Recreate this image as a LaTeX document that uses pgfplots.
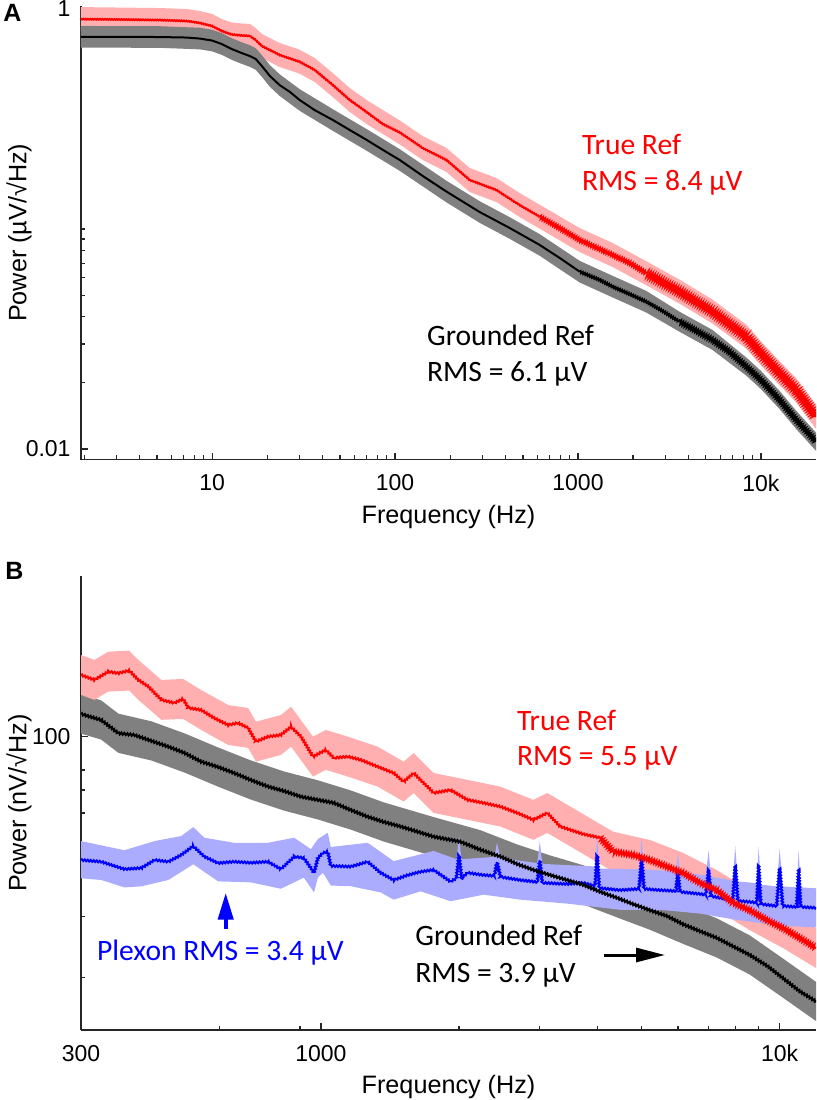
\documentclass[border=0pt]{standalone}
\usepackage{fontspec}
\setmainfont{Liberation Sans}
\newfontfamily\calib{Carlito}
\usepackage{pgfplots}
\pgfplotsset{compat=1.18}
\usepackage{pgfplotstable}
\usetikzlibrary{arrows.meta,decorations.pathmorphing}

\definecolor{pinkband}{RGB}{255,175,175}
\definecolor{grayband}{RGB}{128,128,128}
\definecolor{blueband}{RGB}{172,172,255}

% ---------- Panel A : black (grounded), in three frequency parts ----------
\pgfplotstableread{
f v
1.9 0.748
3.13 0.748
5.18 0.746
7.27 0.742
8.57 0.734
10.0 0.719
11.3 0.693
12.8 0.658
14.5 0.631
16.1 0.611
17.3 0.593
18.7 0.551
20.7 0.496
23.4 0.451
26.6 0.420
30.1 0.386
36.4 0.347
45.7 0.313
56.5 0.282
70.0 0.254
85.7 0.229
106 0.206
142 0.174
191 0.148
290 0.1195
424 0.101
618 0.0846
794 0.0739
1021 0.0640
}\blackAlo

\pgfplotstableread{
f v
1021 0.0640
1314 0.0587
1547 0.0547
1917 0.0506
2366 0.0467
2903 0.0424
3594 0.0379
}\blackAmid

\pgfplotstableread{
f v
3594 0.0379
4453 0.0344
5445 0.0313
6745 0.0276
8318 0.0237
10000 0.0206
12650 0.0167
15600 0.01355
17540 0.0122
20000 0.0108
}\blackAhi

% band of the black curve: upper edge (k>1) then lower edge back (k<1)
\pgfplotstableread{
f v k
1.9 0.748 1.12
5.18 0.746 1.12
8.57 0.734 1.12
10.0 0.719 1.12
11.3 0.693 1.12
12.8 0.658 1.12
14.5 0.631 1.12
16.1 0.611 1.12
17.3 0.593 1.12
18.7 0.551 1.12
20.7 0.496 1.12
23.4 0.451 1.12
30.1 0.386 1.12
45.7 0.313 1.12
70.0 0.254 1.12
106 0.206 1.12
191 0.148 1.12
290 0.1195 1.12
424 0.101 1.12
618 0.0846 1.12
1021 0.0640 1.12
1547 0.0547 1.12
2366 0.0467 1.12
3594 0.0379 1.11
5445 0.0313 1.11
8318 0.0237 1.10
10000 0.0206 1.10
12650 0.0167 1.10
15600 0.01355 1.10
20000 0.0108 1.10
20000 0.0108 0.909
15600 0.01355 0.909
12650 0.0167 0.909
10000 0.0206 0.909
8318 0.0237 0.909
5445 0.0313 0.90
3594 0.0379 0.90
2366 0.0467 0.893
1547 0.0547 0.893
1021 0.0640 0.893
618 0.0846 0.893
424 0.101 0.893
290 0.1195 0.893
191 0.148 0.893
106 0.206 0.893
70.0 0.254 0.893
45.7 0.313 0.893
30.1 0.386 0.893
23.4 0.451 0.893
20.7 0.496 0.893
18.7 0.551 0.893
17.3 0.593 0.893
16.1 0.611 0.893
14.5 0.631 0.893
12.8 0.658 0.893
11.3 0.693 0.893
10.0 0.719 0.893
8.57 0.734 0.893
5.18 0.746 0.893
1.9 0.748 0.893
}\blackAband

% ---------- Panel A : red (true ref), in three frequency parts ----------
\pgfplotstableread{
f v
1.9 0.900
3.13 0.896
5.18 0.891
7.27 0.882
8.57 0.864
10.0 0.837
11.3 0.794
12.8 0.766
14.5 0.758
16.1 0.754
17.3 0.723
18.7 0.679
20.7 0.651
23.4 0.618
26.6 0.596
30.1 0.576
36.4 0.528
45.7 0.451
56.5 0.386
70.0 0.340
85.7 0.300
106 0.275
142 0.233
191 0.206
256 0.167
358 0.1504
480 0.1285
618 0.1137
}\redAlo

\pgfplotstableread{
f v
618 0.1137
794 0.101
1021 0.0891
1547 0.0762
1917 0.0701
2366 0.0629
}\redAmid

\pgfplotstableread{
f v
2366 0.0629
3594 0.0519
5445 0.0421
8318 0.0324
10000 0.0272
12650 0.0221
15600 0.0185
20000 0.0140
}\redAhi

\pgfplotstableread{
f v k
1.9 0.900 1.134
5.18 0.891 1.134
7.27 0.882 1.134
8.57 0.864 1.134
10.0 0.837 1.134
11.3 0.794 1.134
12.8 0.766 1.134
14.5 0.758 1.134
16.1 0.754 1.134
17.3 0.723 1.134
18.7 0.679 1.134
20.7 0.651 1.134
23.4 0.618 1.134
30.1 0.576 1.134
36.4 0.528 1.134
45.7 0.451 1.134
56.5 0.386 1.134
70.0 0.340 1.134
106 0.275 1.134
142 0.233 1.134
191 0.206 1.134
256 0.167 1.134
358 0.1504 1.134
480 0.1285 1.134
618 0.1137 1.134
1021 0.0891 1.134
1547 0.0762 1.134
2366 0.0629 1.134
3594 0.0519 1.134
5445 0.0421 1.134
8318 0.0324 1.134
10000 0.0272 1.134
12650 0.0221 1.134
15600 0.0185 1.134
20000 0.0140 1.134
20000 0.0140 0.882
15600 0.0185 0.882
12650 0.0221 0.882
10000 0.0272 0.882
8318 0.0324 0.882
5445 0.0421 0.882
3594 0.0519 0.882
2366 0.0629 0.882
1547 0.0762 0.882
1021 0.0891 0.882
618 0.1137 0.882
480 0.1285 0.882
358 0.1504 0.882
256 0.167 0.882
191 0.206 0.882
142 0.233 0.882
106 0.275 0.882
70.0 0.340 0.882
56.5 0.386 0.882
45.7 0.451 0.882
36.4 0.528 0.882
30.1 0.576 0.882
23.4 0.618 0.882
20.7 0.651 0.882
18.7 0.679 0.882
17.3 0.723 0.882
16.1 0.754 0.882
14.5 0.758 0.882
12.8 0.766 0.882
11.3 0.794 0.882
10.0 0.837 0.882
8.57 0.864 0.882
7.27 0.882 0.882
5.18 0.891 0.882
1.9 0.900 0.882
}\redAband

% ---------- Panel B : red (true ref) ----------
\pgfplotstableread{
f v
300 151.1
321 146.2
344 154.5
362 152.9
382 155.6
400 146.2
421 139.7
449 127.9
479 125.3
501 128.7
514 121.2
548 119.6
585 113.3
628 108.1
660 109.6
694 106.0
722 96.7
767 100
818 101.1
861 106.9
905 100
961 87.5
1025 91.5
1067 86.7
1145 87.5
1222 85.6
1330 81.8
1441 78.4
1515 74.0
1593 78.4
1761 68.6
1917 70.0
2088 65.5
2262 64.2
2463 62.6
2682 60.0
2904 57.3
3115 60.0
3325 54.8
3731 52.1
4062 50.8
}\redBlo

\pgfplotstableread{
f v
4062 50.8
4335 46.3
4790 45.3
5217 43.8
5679 41.9
6154 40.2
6701 37.6
7295 35.8
7904 32.9
8606 31.3
9370 29.3
10150 27.8
11053 26.0
12000 24.3
}\redBhi

\pgfplotstableread{
f v k
300 151.1 1.143
321 146.2 1.143
344 154.5 1.143
382 155.6 1.143
400 146.2 1.143
449 127.9 1.143
501 128.7 1.143
548 119.6 1.143
628 108.1 1.143
694 106.0 1.143
722 96.7 1.143
818 101.1 1.143
861 106.9 1.143
961 87.5 1.143
1025 91.5 1.143
1145 87.5 1.143
1330 81.8 1.143
1515 74.0 1.143
1593 78.4 1.143
1761 68.6 1.143
2088 65.5 1.143
2463 62.6 1.143
2904 57.3 1.143
3115 60.0 1.143
3731 52.1 1.143
4335 46.3 1.143
5217 43.8 1.143
6154 40.2 1.143
7295 35.8 1.143
8606 31.3 1.143
10150 27.8 1.143
12000 24.3 1.143
12000 24.3 0.875
10150 27.8 0.875
8606 31.3 0.875
7295 35.8 0.875
6154 40.2 0.875
5217 43.8 0.875
4335 46.3 0.875
3731 52.1 0.875
3115 60.0 0.875
2904 57.3 0.875
2463 62.6 0.875
2088 65.5 0.875
1761 68.6 0.875
1593 78.4 0.875
1515 74.0 0.875
1330 81.8 0.875
1145 87.5 0.875
1025 91.5 0.875
961 87.5 0.875
861 106.9 0.875
818 101.1 0.875
722 96.7 0.875
694 106.0 0.875
628 108.1 0.875
548 119.6 0.875
501 128.7 0.875
449 127.9 0.875
400 146.2 0.875
382 155.6 0.875
344 154.5 0.875
321 146.2 0.875
300 151.1 0.875
}\redBband

% ---------- Panel B : black (grounded) ----------
\pgfplotstableread{
f v
300 116.4
332 111.8
362 102.3
392 101.1
427 97.2
465 93.5
504 89.7
548 84.6
597 81.6
647 78.4
704 74.8
767 71.6
831 69.5
905 66.9
985 65.5
1067 64.2
1162 61.2
1265 58.5
1371 56.5
1492 54.8
1761 51.2
2014 49.5
2227 46.9
2463 44.8
2682 42.6
2904 41.0
3162 39.6
3443 38.3
3731 37.1
4062 35.4
4423 34.0
4790 32.6
5217 31.3
5679 30.1
6154 28.5
6701 27.2
7295 26.0
7904 24.6
8606 23.2
9370 21.6
10150 19.9
11053 18.2
12000 17.0
}\blackB

\pgfplotstableread{
f v k
300 116.4 1.14
332 111.8 1.14
362 102.3 1.14
427 97.2 1.14
504 89.7 1.14
597 81.6 1.14
704 74.8 1.14
831 69.5 1.14
985 65.5 1.14
1162 61.2 1.14
1371 56.5 1.14
1761 51.2 1.14
2227 46.9 1.14
2682 42.6 1.14
3162 39.6 1.14
3731 37.1 1.14
4423 34.0 1.14
5217 31.3 1.14
6154 28.5 1.14
7295 26.0 1.14
8606 23.2 1.14
10150 19.9 1.14
12000 17.0 1.14
12000 17.0 0.877
10150 19.9 0.877
8606 23.2 0.877
7295 26.0 0.877
6154 28.5 0.877
5217 31.3 0.877
4423 34.0 0.877
3731 37.1 0.877
3162 39.6 0.877
2682 42.6 0.877
2227 46.9 0.877
1761 51.2 0.877
1371 56.5 0.877
1162 61.2 0.877
985 65.5 0.877
831 69.5 0.877
704 74.8 0.877
597 81.6 0.877
504 89.7 0.877
427 97.2 0.877
362 102.3 0.877
332 111.8 0.877
300 116.4 0.877
}\blackBband

% ---------- Panel B : blue (Plexon) ----------
\pgfplotstableread{
f v
300 43.8
332 43.3
373 41.2
406 41.5
434 43.8
465 43.3
496 45.3
527 48.1
557 44.8
597 42.9
647 43.3
704 43.0
767 43.3
818 41.2
874 44.8
918 44.4
951 41.5
966 40.2
985 44.4
1010 45.9
1035 46.3
1051 42.1
1162 41.9
1265 43.3
1350 40.2
1441 38.3
1546 39.6
1650 40.5
1761 41.0
1917 37.9
1975 38.8
2000 45.3
2025 38.8
2088 40.2
2262 39.6
2389 39.4
2420 43.3
2463 39.1
2721 38.3
2963 37.8
3000 43.8
3038 37.6
3443 37.3
3731 37.6
3961 36.8
4000 45.3
4043 36.3
4488 35.8
4937 36.1
5000 44.4
5061 36.1
5483 35.8
5940 35.6
6000 40.4
6060 35.4
6701 34.9
6904 34.7
7000 41.0
7079 34.4
7406 34.0
7904 33.5
8000 42.1
8107 33.3
8606 33.1
8913 32.9
9000 42.1
9094 32.6
9851 32.2
10000 41.5
10150 32.2
10890 32.0
11000 41.0
11110 32.0
12000 31.8
}\blueB

\pgfplotstableread{
f v k
300 43.8 1.135
373 41.2 1.135
434 43.8 1.135
496 45.3 1.135
527 48.1 1.135
557 44.8 1.135
647 43.3 1.135
767 43.3 1.135
874 44.8 1.135
951 41.5 1.135
985 44.4 1.135
1035 46.3 1.135
1051 42.1 1.135
1265 43.3 1.135
1441 38.3 1.135
1761 41.0 1.135
1975 38.8 1.135
2000 45.3 1.135
2025 38.8 1.135
2389 39.4 1.135
2420 43.3 1.135
2463 39.1 1.135
2963 37.8 1.135
3000 43.8 1.135
3038 37.6 1.135
3961 36.8 1.14
4000 45.3 1.14
4043 36.3 1.14
4937 36.1 1.14
5000 44.4 1.14
5061 36.1 1.14
5940 35.6 1.14
6000 40.4 1.14
6060 35.4 1.14
6904 34.7 1.14
7000 41.0 1.14
7079 34.4 1.14
7904 33.5 1.14
8000 42.1 1.14
8107 33.3 1.14
8913 32.9 1.14
9000 42.1 1.14
9094 32.6 1.14
9851 32.2 1.14
10000 41.5 1.14
10150 32.2 1.14
10890 32.0 1.14
11000 41.0 1.14
11110 32.0 1.14
12000 31.8 1.14
12000 31.8 0.877
10000 32.2 0.877
8000 33.5 0.877
6701 34.9 0.877
5483 35.8 0.877
4488 35.8 0.877
3443 37.3 0.877
2721 38.3 0.877
2262 39.6 0.877
1917 37.9 0.877
1650 40.5 0.877
1441 38.3 0.877
1350 40.2 0.877
1162 41.9 0.877
1051 42.1 0.877
1010 45.9 0.877
985 44.4 0.877
966 40.2 0.877
918 44.4 0.877
818 41.2 0.877
704 43.0 0.877
597 42.9 0.885
527 48.1 0.885
465 43.3 0.885
406 41.5 0.885
373 41.2 0.885
332 43.3 0.885
300 43.8 0.885
}\blueBband

\begin{document}
\begin{tikzpicture}
\path[use as bounding box] (0,0) rectangle (408.5pt,-550pt);

% ================= Panel A =================
\begin{axis}[
  scale only axis, width=367.5pt, height=226.75pt,
  at={(40.5pt,-229.75pt)}, anchor=south west,
  xmode=log, ymode=log,
  xmin=1.92, xmax=20000, ymin=0.00896, ymax=1.032,
  axis x line*=bottom, axis y line*=left,
  axis line style={black!85, line width=0.6pt},
  tick style={black!85, line width=0.6pt},
  tick align=inside,
  major tick length=3.5pt, minor tick length=2.2pt,
  tick label style={font=\fontsize{11.5}{13}\selectfont},
  label style={font=\fontsize{12.6}{14}\selectfont},
  xlabel={Frequency (Hz)},
  xlabel style={at={(axis description cs:0.5,-0.126)}, anchor=center},
  ylabel style={at={(axis description cs:-0.0843,0.5)}, anchor=center},
  xticklabel style={yshift=-4pt},
  yticklabel style={xshift=-1.7pt},
  xtick={10,100,1000,10000}, xticklabels={10,100,1000,10k},
  minor xtick={2,3,4,5,6,7,8,9,20,30,40,50,60,70,80,90,200,300,400,500,600,700,800,900,2000,3000,4000,5000,6000,7000,8000,9000},
  ytick={0.01,1}, yticklabels={0.01,1},
  minor ytick={0.02,0.03,0.04,0.05,0.06,0.07,0.08,0.09,0.1},
  ylabel={Power (µV/√Hz)},
]
\addplot[fill=pinkband, draw=none, forget plot] table[x=f, y expr=\thisrow{v}*\thisrow{k}] {\redAband};
\addplot[fill=grayband, draw=none, forget plot] table[x=f, y expr=\thisrow{v}*\thisrow{k}] {\blackAband};
\addplot[black, line width=1pt, forget plot] table[x=f, y=v] {\blackAlo};
\addplot[black, line width=1pt, forget plot, decorate, decoration={zigzag, amplitude=0.45pt, segment length=1.2pt}] table[x=f, y=v] {\blackAmid};
\addplot[black, line width=1pt, decorate, decoration={zigzag, amplitude=0.85pt, segment length=1.2pt}] table[x=f, y=v] {\blackAhi};
\addplot[red, line width=1pt, forget plot, decorate, decoration={zigzag, amplitude=0.2pt, segment length=1.2pt}] table[x=f, y=v] {\redAlo};
\addplot[red, line width=1pt, forget plot, decorate, decoration={zigzag, amplitude=0.7pt, segment length=1.2pt}] table[x=f, y=v] {\redAmid};
\addplot[red, line width=1pt, decorate, decoration={zigzag, amplitude=1.4pt, segment length=1.2pt}] table[x=f, y=v] {\redAhi};
\end{axis}

% ================= Panel B =================
\begin{axis}[
  scale only axis, width=367.5pt, height=227pt,
  at={(40.5pt,-515pt)}, anchor=south west,
  xmode=log, ymode=log,
  xmin=300, xmax=12000, ymin=14.04, ymax=293,
  axis x line*=bottom, axis y line*=left,
  axis line style={black!85, line width=0.6pt},
  tick style={black!85, line width=0.6pt},
  tick align=inside,
  major tick length=3.5pt, minor tick length=2.2pt,
  tick label style={font=\fontsize{11.5}{13}\selectfont},
  label style={font=\fontsize{12.6}{14}\selectfont},
  xlabel={Frequency (Hz)},
  xlabel style={at={(axis description cs:0.5,-0.126)}, anchor=center},
  ylabel style={at={(axis description cs:-0.0843,0.5)}, anchor=center},
  xticklabel style={yshift=-4pt},
  yticklabel style={xshift=-1.7pt},
  xtick={300,1000,10000}, xticklabels={300,1000,10k},
  minor xtick={600,900,2000,3000,4000,5000,6000,7000,8000,9000},
  ytick={100}, yticklabels={100},
  minor ytick={20,30,60,70,80},
  ylabel={Power (nV/√Hz)},
]
\addplot[fill=grayband, draw=none, forget plot] table[x=f, y expr=\thisrow{v}*\thisrow{k}] {\blackBband};
\addplot[fill=pinkband, draw=none, forget plot] table[x=f, y expr=\thisrow{v}*\thisrow{k}] {\redBband};
\addplot[fill=blueband, draw=none, forget plot] table[x=f, y expr=\thisrow{v}*\thisrow{k}] {\blueBband};
\addplot[blue, line width=1pt, decorate, decoration={zigzag, amplitude=0.4pt, segment length=1.5pt}] table[x=f, y=v] {\blueB};
\addplot[black, line width=1pt, decorate, decoration={zigzag, amplitude=0.5pt, segment length=1.5pt}] table[x=f, y=v] {\blackB};
\addplot[red, line width=1pt, forget plot, decorate, decoration={zigzag, amplitude=0.4pt, segment length=1.5pt}] table[x=f, y=v] {\redBlo};
\addplot[red, line width=1pt, decorate, decoration={zigzag, amplitude=0.9pt, segment length=1.3pt}] table[x=f, y=v] {\redBhi};
\end{axis}

% ================= Annotations (pixel units) =================
\begin{scope}[x=0.5pt, y=-0.5pt]
\node[anchor=base west, inner sep=0, font=\bfseries\fontsize{12.5}{14}\selectfont] at (3,21) {A};
\node[anchor=base west, inner sep=0, font=\bfseries\fontsize{12.5}{14}\selectfont] at (5,579) {B};
\node[text=red, anchor=base west, inner sep=0, font=\calib\fontsize{14.8}{16}\selectfont] at (581.7,154) {True Ref};
\node[text=red, anchor=base west, inner sep=0, font=\calib\fontsize{14.8}{16}\selectfont] at (581.7,190) {RMS = 8.4 µV};
\node[anchor=base west, inner sep=0, font=\calib\fontsize{14.8}{16}\selectfont] at (426.7,345) {Grounded Ref};
\node[anchor=base west, inner sep=0, font=\calib\fontsize{14.8}{16}\selectfont] at (426.7,381.7) {RMS = 6.1 µV};
\node[text=red, anchor=base west, inner sep=0, font=\calib\fontsize{14.8}{16}\selectfont] at (516.7,730) {True Ref};
\node[text=red, anchor=base west, inner sep=0, font=\calib\fontsize{14.8}{16}\selectfont] at (516.7,765) {RMS = 5.5 µV};
\node[text=blue, anchor=base west, inner sep=0, font=\calib\fontsize{14.8}{16}\selectfont] at (96.7,960) {Plexon RMS = 3.4 µV};
\node[anchor=base west, inner sep=0, font=\calib\fontsize{14.8}{16}\selectfont] at (415,945) {Grounded Ref};
\node[anchor=base west, inner sep=0, font=\calib\fontsize{14.8}{16}\selectfont] at (415,982.3) {RMS = 3.9 µV};
\draw[line width=1.5pt, -{Triangle[length=14.5pt,width=7pt]}] (604,955) -- (665,955);
\draw[blue, line width=2.2pt, -{Triangle[length=13.5pt,width=7.5pt]}] (225.7,929.3) -- (225.7,892.7);
\end{scope}
\end{tikzpicture}
\end{document}
